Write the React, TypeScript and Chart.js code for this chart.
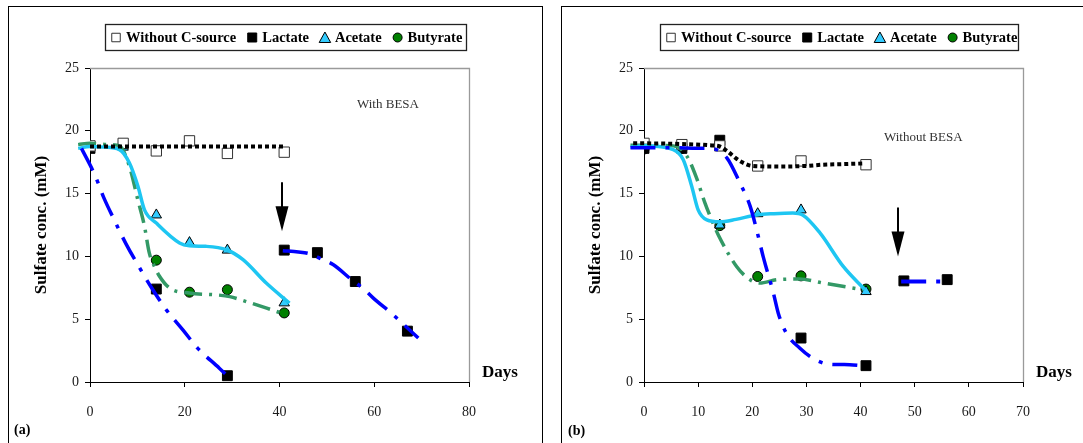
import { useEffect, useRef } from 'react';
import { Chart, registerables } from 'chart.js';

Chart.register(...registerables);

const SERIF = '"Liberation Serif", "Times New Roman", serif';

// ---------- Panel (a): with BESA ----------
const daysA = [0, 7, 14, 21, 29, 41];
const noCarbonA = [18.8, 19.0, 18.4, 19.2, 18.2, 18.3];
const lactateDaysA = [0, 14, 29, 41, 48, 56, 67];
const lactateA = [18.6, 7.4, 0.5, 10.5, 10.3, 8.0, 4.05];
const acetateA = [18.8, 18.7, 13.3, 11.1, 10.5, 6.3];
const butyrateA = [18.8, 18.9, 9.7, 7.15, 7.35, 5.5];

// fitted trend curves, panel (a)
const noCarbonFitDaysA = [0, 41];
const noCarbonFitA = [18.75, 18.75];
const lactateFit1DaysA = [-1.8, 1, 3, 5, 7.6, 10.3, 13, 16, 19.6, 22.7, 27.3, 29.5];
const lactateFit1A = [18.6, 16.5, 14.6, 13.0, 11.0, 9.2, 7.5, 5.8, 4.15, 2.7, 1.1, 0.3];
const lactateFit2DaysA = [40.7, 44, 46.4, 48.8, 51.3, 55.2, 57.8, 59.75, 64, 66, 69.3];
const lactateFit2A = [10.45, 10.35, 10.2, 9.8, 9.35, 8.15, 7.4, 6.7, 5.35, 4.65, 3.5];
const acetateFitDaysA = [-2.5, 0, 3, 6.2, 8.3, 10.1, 11.5, 14, 18.9, 21, 24.5, 28.8, 32.3, 37.2, 42.1];
const acetateFitA = [18.6, 18.75, 18.7, 18.5, 17.45, 15.6, 13.7, 12.65, 11.07, 10.85, 10.8, 10.53, 9.74, 7.88, 6.28];
const butyrateFitDaysA = [-2.5, 0, 4, 6.2, 8.3, 10.1, 11.5, 12.5, 13.6, 14.6, 16.8, 21, 26.6, 29.5, 33, 37.3, 41.4];
const butyrateFitA = [18.9, 19.0, 18.9, 18.8, 17.2, 14.5, 12.4, 10.3, 9.2, 8.46, 7.48, 7.08, 6.94, 6.8, 6.4, 5.88, 5.35];

// arrow marking the re-addition of lactate (day, top value, tip value)
const arrowA = { day: 40.5, from: 15.9, to: 12.0 };

// ---------- Panel (b): without BESA ----------
const daysB = [0, 7, 14, 21, 29, 41];
const noCarbonB = [19.0, 18.9, 18.8, 17.2, 17.6, 17.3];
const lactateDaysB = [0, 7, 14, 29, 41, 48, 56];
const lactateB = [18.6, 18.6, 19.25, 3.5, 1.3, 8.05, 8.15];
const acetateB = [18.8, 18.7, 12.5, 13.4, 13.7, 7.2];
const butyrateB = [18.55, 18.6, 12.45, 8.4, 8.45, 7.4];

const noCarbonFitDaysB = [-2, 0, 7, 12, 14, 15.3, 17.7, 20.1, 25, 29.8, 33, 37, 40.5];
const noCarbonFitB = [19.0, 19.0, 18.95, 18.85, 18.75, 18.4, 17.6, 17.2, 17.15, 17.2, 17.3, 17.35, 17.4];
const lactateFit1DaysB = [-2.5, 0, 5, 10, 12.4, 15.3, 17.7, 19.6, 21.1, 22, 23.9, 24.8, 26.3, 28.8, 31.2, 34.3, 38, 40.5];
const lactateFit1B = [18.65, 18.65, 18.65, 18.62, 18.6, 17.85, 15.86, 14.0, 11.6, 10.0, 7.08, 5.48, 3.88, 2.69, 1.89, 1.41, 1.38, 1.3];
const lactateFit2DaysB = [47.5, 56];
const lactateFit2B = [8.0, 8.0];
const acetateFitDaysB = [-2.5, 0, 5.4, 7.25, 8.8, 10.0, 11.6, 14.0, 17, 20.8, 24, 27.5, 29.3, 32.5, 36.8, 40.8];
const acetateFitB = [18.7, 18.8, 18.5, 17.7, 15.6, 13.7, 12.9, 12.75, 12.95, 13.3, 13.4, 13.45, 13.3, 11.87, 9.2, 7.34];
const butyrateFitDaysB = [-2.5, 0, 5.4, 7.9, 9.7, 11.25, 12.5, 13.7, 17.1, 19.6, 21.4, 24.5, 28.7, 33.1, 40.5];
const butyrateFitB = [18.85, 18.85, 18.8, 18.0, 16.25, 14.26, 12.9, 11.73, 9.2, 8.14, 7.88, 8.14, 8.2, 7.88, 7.34];

const arrowB = { day: 47.0, from: 13.9, to: 10.0 };

// ---------- shared axis / legend text ----------
const yTicks = [0, 5, 10, 15, 20, 25];
const legendLabels = ['Without C-source', 'Lactate', 'Acetate', 'Butyrate'];
const yTitle = 'Sulfate conc. (mM)';
const xTitle = 'Days';

type Shape = 'rect' | 'triangle' | 'circle';
interface MarkerStyle { shape: Shape; fill: string; stroke: string; r: number; }

const markerStyles: MarkerStyle[] = [
  { shape: 'rect', fill: '#ffffff', stroke: '#333333', r: 7.3 },
  { shape: 'rect', fill: '#000000', stroke: '#000000', r: 7 },
  { shape: 'triangle', fill: '#33ccff', stroke: '#000000', r: 6 },
  { shape: 'circle', fill: '#008000', stroke: '#000000', r: 5 },
];

const LINE_BLACK = '#000000';
const LINE_BLUE = '#0000ff';
const LINE_CYAN = '#1ec6f2';
const LINE_GREEN = '#339966';

const pts = (xs: number[], ys: number[]) => xs.map((x, i) => ({ x, y: ys[i] }));

const markers = (label: string, xs: number[], ys: number[], s: MarkerStyle) => ({
  label,
  data: pts(xs, ys),
  showLine: false,
  pointStyle: s.shape,
  pointRadius: s.r,
  pointHoverRadius: s.r,
  pointBackgroundColor: s.fill,
  pointBorderColor: s.stroke,
  pointBorderWidth: 1,
  order: 2,
});

const fit = (xs: number[], ys: number[], color: string, width: number, dash: number[]) => ({
  label: '',
  data: pts(xs, ys),
  showLine: true,
  borderColor: color,
  borderWidth: width,
  borderDash: dash,
  borderCapStyle: 'butt',
  pointRadius: 0,
  pointHoverRadius: 0,
  cubicInterpolationMode: 'monotone',
  fill: false,
  clip: false,
  order: 1,
});

const DOTTED = [4, 3];
const DASH_DOT_BLUE = [25, 10, 4, 10];
const DASH_DOT_GREEN = [18, 7, 3, 7];

function drawMarker(ctx: CanvasRenderingContext2D, s: MarkerStyle, x: number, y: number, size: number) {
  ctx.save();
  ctx.fillStyle = s.fill;
  ctx.strokeStyle = s.stroke;
  ctx.lineWidth = 1;
  ctx.beginPath();
  if (s.shape === 'rect') {
    ctx.rect(x - size / 2, y - size / 2, size, size);
  } else if (s.shape === 'triangle') {
    const h = size * 0.95;
    ctx.moveTo(x, y - h / 2 - 0.5);
    ctx.lineTo(x + size / 2 + 0.5, y + h / 2);
    ctx.lineTo(x - size / 2 - 0.5, y + h / 2);
    ctx.closePath();
  } else {
    ctx.arc(x, y, size / 2, 0, Math.PI * 2);
  }
  ctx.fill();
  ctx.stroke();
  ctx.restore();
}

interface ExtrasOpts {
  legendBox: { x: number; y: number; w: number; h: number };
  days: { x: number; y: number };
  tag: { text: string; x: number; y: number };
  note: { text: string; x: number; y: number };
  arrow: { day: number; from: number; to: number };
}

const panelExtras = {
  id: 'panelExtras',
  afterDatasetsDraw(chart: any, _args: any, opts: ExtrasOpts) {
    const { ctx, chartArea: ca, scales } = chart;
    ctx.save();

    // light frame on the top and right of the plot area
    ctx.strokeStyle = '#9a9a9a';
    ctx.lineWidth = 1.3;
    ctx.beginPath();
    ctx.moveTo(ca.left, ca.top + 0.5);
    ctx.lineTo(ca.right + 0.5, ca.top + 0.5);
    ctx.lineTo(ca.right + 0.5, ca.bottom);
    ctx.stroke();

    // arrow pointing at the day lactate was added again
    const ax = Math.round(scales.x.getPixelForValue(opts.arrow.day));
    const yTop = scales.y.getPixelForValue(opts.arrow.from);
    const yTip = scales.y.getPixelForValue(opts.arrow.to);
    const headH = 25;
    const headW = 13;
    ctx.strokeStyle = '#000';
    ctx.fillStyle = '#000';
    ctx.lineWidth = 2;
    ctx.beginPath();
    ctx.moveTo(ax, yTop);
    ctx.lineTo(ax, yTip - headH + 1);
    ctx.stroke();
    ctx.beginPath();
    ctx.moveTo(ax - headW / 2, yTip - headH);
    ctx.lineTo(ax + headW / 2, yTip - headH);
    ctx.lineTo(ax, yTip);
    ctx.closePath();
    ctx.fill();

    // legend
    const b = opts.legendBox;
    ctx.strokeStyle = '#222';
    ctx.lineWidth = 1.3;
    ctx.strokeRect(b.x + 0.5, b.y + 0.5, b.w, b.h);
    ctx.font = `bold 14.5px ${SERIF}`;
    ctx.textBaseline = 'middle';
    ctx.textAlign = 'left';
    ctx.fillStyle = '#000';
    const cy = b.y + b.h / 2 + 0.5;
    let x = b.x + 11;
    const legendSizes = [8.5, 9, 10.5, 9];
    legendLabels.forEach((label, i) => {
      drawMarker(ctx, markerStyles[i], x, cy, legendSizes[i]);
      ctx.fillText(label, x + 10, cy + 1);
      x += 10 + ctx.measureText(label).width + 16;
    });

    // "Days" beside the x axis
    ctx.font = `bold 17px ${SERIF}`;
    ctx.textAlign = 'center';
    ctx.fillText(xTitle, opts.days.x, opts.days.y);

    // panel tag
    ctx.font = `bold 14px ${SERIF}`;
    ctx.textAlign = 'left';
    ctx.fillText(opts.tag.text, opts.tag.x, opts.tag.y);

    // condition note
    ctx.font = `13px ${SERIF}`;
    ctx.fillStyle = '#333';
    ctx.fillText(opts.note.text, opts.note.x, opts.note.y);

    ctx.restore();
  },
};

interface PanelProps {
  width: number;
  left: number;
  plotLeft: number;
  plotRight: number;
  xMax: number;
  xStep: number;
  titlePad: number;
  datasets: any[];
  extras: ExtrasOpts;
}

function Panel(p: PanelProps) {
  const ref = useRef<HTMLCanvasElement | null>(null);

  useEffect(() => {
    if (!ref.current) return;
    const height = 443;
    const plotTop = 68;
    const plotBottom = 382;
    const chart = new Chart(ref.current, {
      type: 'line',
      data: { datasets: p.datasets },
      plugins: [panelExtras],
      options: {
        responsive: false,
        animation: false,
        devicePixelRatio: 1,
        events: [],
        layout: { padding: { top: plotTop, right: p.width - p.plotRight, bottom: 0, left: 0 } },
        plugins: {
          legend: { display: false },
          tooltip: { enabled: false },
          panelExtras: p.extras,
        } as any,
        scales: {
          x: {
            type: 'linear',
            min: 0,
            max: p.xMax,
            afterFit: (s: any) => { s.height = height - plotBottom; },
            ticks: { stepSize: p.xStep, padding: 17, color: '#1a1a1a', font: { family: SERIF, size: 14 } },
            grid: { drawOnChartArea: false, drawTicks: true, tickLength: 5, color: '#000' },
            border: { color: '#000', width: 1 },
          },
          y: {
            type: 'linear',
            min: 0,
            max: 25,
            afterFit: (s: any) => { s.width = p.plotLeft; },
            afterBuildTicks: (s: any) => { s.ticks = yTicks.map((v) => ({ value: v })); },
            ticks: { padding: 6, color: '#1a1a1a', font: { family: SERIF, size: 14 } },
            grid: { drawOnChartArea: false, drawTicks: true, tickLength: 5, color: '#000' },
            border: { color: '#000', width: 1 },
            title: {
              display: true,
              text: yTitle,
              color: '#000',
              font: { family: SERIF, size: 17, weight: 'bold' },
              padding: { top: p.titlePad, bottom: 0 },
            },
          },
        },
      } as any,
    });
    return () => chart.destroy();
  }, []);

  return (
    <canvas
      ref={ref}
      width={p.width}
      height={443}
      style={{ position: 'absolute', left: p.left, top: 0, width: p.width, height: 443 }}
    />
  );
}

const datasetsA = [
  markers(legendLabels[0], daysA, noCarbonA, markerStyles[0]),
  markers(legendLabels[1], lactateDaysA, lactateA, markerStyles[1]),
  markers(legendLabels[2], daysA, acetateA, markerStyles[2]),
  markers(legendLabels[3], daysA, butyrateA, markerStyles[3]),
  fit(noCarbonFitDaysA, noCarbonFitA, LINE_BLACK, 4, DOTTED),
  fit(lactateFit1DaysA, lactateFit1A, LINE_BLUE, 3.5, DASH_DOT_BLUE),
  fit(lactateFit2DaysA, lactateFit2A, LINE_BLUE, 3.5, DASH_DOT_BLUE),
  fit(acetateFitDaysA, acetateFitA, LINE_CYAN, 3.5, []),
  fit(butyrateFitDaysA, butyrateFitA, LINE_GREEN, 3.5, DASH_DOT_GREEN),
];

const datasetsB = [
  markers(legendLabels[0], daysB, noCarbonB, markerStyles[0]),
  markers(legendLabels[1], lactateDaysB, lactateB, markerStyles[1]),
  markers(legendLabels[2], daysB, acetateB, markerStyles[2]),
  markers(legendLabels[3], daysB, butyrateB, markerStyles[3]),
  fit(noCarbonFitDaysB, noCarbonFitB, LINE_BLACK, 4, DOTTED),
  fit(lactateFit1DaysB, lactateFit1B, LINE_BLUE, 3.5, DASH_DOT_BLUE),
  fit(lactateFit2DaysB, lactateFit2B, LINE_BLUE, 4, DASH_DOT_BLUE),
  fit(acetateFitDaysB, acetateFitB, LINE_CYAN, 3.5, []),
  fit(butyrateFitDaysB, butyrateFitB, LINE_GREEN, 3.5, DASH_DOT_GREEN),
];

export default function App() {
  return (
    <div
      style={{
        position: 'absolute',
        left: 0,
        top: 0,
        width: 1083,
        height: 443,
        overflow: 'hidden',
        background: '#fff',
      }}
    >
      <div style={{ position: 'absolute', left: 8, top: 6, width: 533, height: 480, border: '1px solid #000' }} />
      <div style={{ position: 'absolute', left: 561, top: 6, width: 560, height: 480, border: '1px solid #000' }} />
      <Panel
        width={552}
        left={0}
        plotLeft={90}
        plotRight={469}
        xMax={80}
        xStep={20}
        titlePad={31}
        datasets={datasetsA}
        extras={{
          legendBox: { x: 105, y: 24, w: 361, h: 26 },
          days: { x: 500, y: 373 },
          tag: { text: '(a)', x: 14, y: 430 },
          note: { text: 'With BESA', x: 357, y: 105 },
          arrow: arrowA,
        }}
      />
      <Panel
        width={531}
        left={552}
        plotLeft={92}
        plotRight={471}
        xMax={70}
        xStep={10}
        titlePad={33.5}
        datasets={datasetsB}
        extras={{
          legendBox: { x: 108, y: 24, w: 358, h: 26 },
          days: { x: 502, y: 373 },
          tag: { text: '(b)', x: 16, y: 431 },
          note: { text: 'Without BESA', x: 332, y: 138 },
          arrow: arrowB,
        }}
      />
    </div>
  );
}
